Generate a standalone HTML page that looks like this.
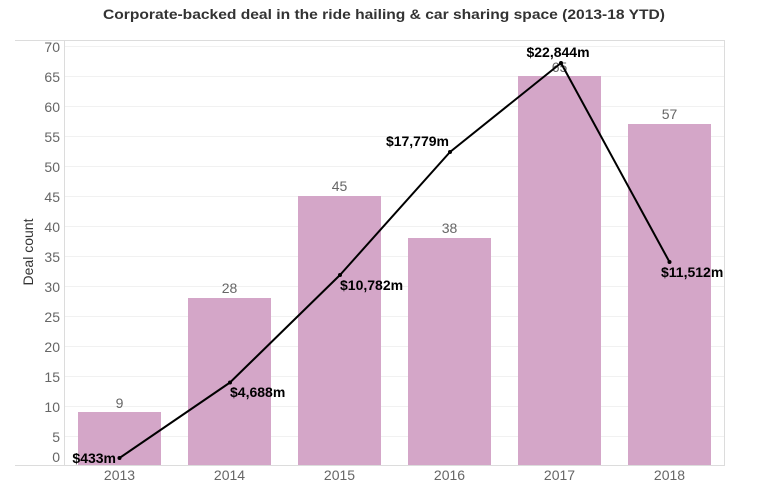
<!DOCTYPE html>
<html>
<head>
<meta charset="utf-8">
<style>
  html, body { margin:0; padding:0; background:#fff; }
  body { width:768px; height:497px; overflow:hidden; }
  svg { display:block; font-family:"Liberation Sans", Arial, sans-serif; }
</style>
</head>
<body>
<svg width="768" height="497" viewBox="0 0 768 497" xmlns="http://www.w3.org/2000/svg">
  <!-- Title -->
  <text x="384" y="19" text-anchor="middle" font-size="14" font-weight="bold" fill="#333" textLength="562" lengthAdjust="spacingAndGlyphs">Corporate-backed deal in the ride hailing &amp; car sharing space (2013-18 YTD)</text>

  <!-- gridlines -->
  <g stroke="#f1f1f1" stroke-width="1">
    <line x1="64" y1="46.5" x2="724" y2="46.5"/>
    <line x1="64" y1="76.5" x2="724" y2="76.5"/>
    <line x1="64" y1="106.5" x2="724" y2="106.5"/>
    <line x1="64" y1="136.5" x2="724" y2="136.5"/>
    <line x1="64" y1="166.5" x2="724" y2="166.5"/>
    <line x1="64" y1="196.5" x2="724" y2="196.5"/>
    <line x1="64" y1="226.5" x2="724" y2="226.5"/>
    <line x1="64" y1="256.5" x2="724" y2="256.5"/>
    <line x1="64" y1="286.5" x2="724" y2="286.5"/>
    <line x1="64" y1="316.5" x2="724" y2="316.5"/>
    <line x1="64" y1="346.5" x2="724" y2="346.5"/>
    <line x1="64" y1="376.5" x2="724" y2="376.5"/>
    <line x1="64" y1="406.5" x2="724" y2="406.5"/>
    <line x1="64" y1="436.5" x2="724" y2="436.5"/>
  </g>

  <!-- borders -->
  <g stroke="#dcdcdc" stroke-width="1" fill="none">
    <line x1="15" y1="40.5" x2="724.5" y2="40.5"/>
    <line x1="15" y1="465.5" x2="724.5" y2="465.5"/>
    <line x1="64.5" y1="40" x2="64.5" y2="466"/>
    <line x1="724.5" y1="40" x2="724.5" y2="466"/>
  </g>

  <!-- y tick labels -->
  <g font-size="14" fill="#666" text-anchor="end">
    <text x="60" y="52">70</text>
    <text x="60" y="82">65</text>
    <text x="60" y="112">60</text>
    <text x="60" y="142">55</text>
    <text x="60" y="172">50</text>
    <text x="60" y="202">45</text>
    <text x="60" y="232">40</text>
    <text x="60" y="262">35</text>
    <text x="60" y="292">30</text>
    <text x="60" y="322">25</text>
    <text x="60" y="352">20</text>
    <text x="60" y="382">15</text>
    <text x="60" y="412">10</text>
    <text x="60" y="442">5</text>
    <text x="60" y="462">0</text>
  </g>

  <!-- y axis title -->
  <text transform="translate(33,252) rotate(-90)" text-anchor="middle" font-size="14" fill="#333">Deal count</text>

  <!-- bars -->
  <g fill="#d4a6c8">
    <rect x="78" y="412" width="83" height="53"/>
    <rect x="188" y="298" width="83" height="167"/>
    <rect x="298" y="196" width="83" height="269"/>
    <rect x="408" y="238" width="83" height="227"/>
    <rect x="518" y="76" width="83" height="389"/>
    <rect x="628" y="124" width="83" height="341"/>
  </g>

  <!-- bar value labels -->
  <g font-size="14" fill="#666" text-anchor="middle">
    <text x="119.5" y="408">9</text>
    <text x="229.5" y="293">28</text>
    <text x="339.5" y="191">45</text>
    <text x="449.5" y="233">38</text>
    <text x="559.5" y="72">65</text>
    <text x="669.5" y="119">57</text>
  </g>

  <!-- x labels -->
  <g font-size="14" fill="#666" text-anchor="middle">
    <text x="119.5" y="480">2013</text>
    <text x="229.5" y="480">2014</text>
    <text x="339.5" y="480">2015</text>
    <text x="449.5" y="480">2016</text>
    <text x="559.5" y="480">2017</text>
    <text x="669.5" y="480">2018</text>
  </g>

  <!-- line -->
  <polyline points="119.5,458 230,382.5 340,275 450,152 561,63 669.5,262" fill="none" stroke="#000" stroke-width="2" stroke-linejoin="round"/>
  <g fill="#000">
    <circle cx="119.5" cy="458" r="2"/>
    <circle cx="230" cy="382.5" r="2"/>
    <circle cx="340" cy="275" r="2"/>
    <circle cx="450" cy="152" r="2"/>
    <circle cx="561" cy="63" r="2"/>
    <circle cx="669.5" cy="262" r="2"/>
  </g>

  <!-- line labels -->
  <g font-size="14" font-weight="bold" fill="#000">
    <text x="116" y="463" text-anchor="end">$433m</text>
    <text x="230" y="397">$4,688m</text>
    <text x="340" y="290">$10,782m</text>
    <text x="449" y="146" text-anchor="end">$17,779m</text>
    <text x="558" y="57" text-anchor="middle">$22,844m</text>
    <text x="661" y="277">$11,512m</text>
  </g>
</svg>
</body>
</html>
